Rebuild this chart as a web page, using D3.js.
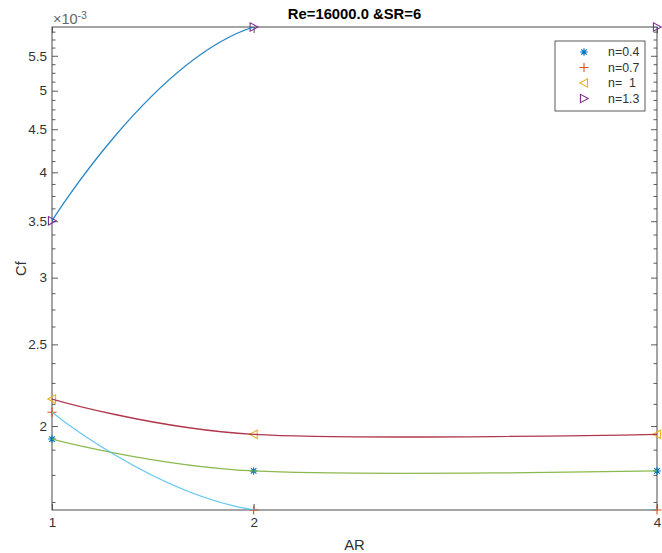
<!DOCTYPE html>
<html>
<head>
<meta charset="utf-8">
<script src="https://cdn.jsdelivr.net/npm/d3@7"></script>
<style>
  html, body { margin: 0; padding: 0; background: #ffffff; }
  svg { display: block; font-family: "Liberation Sans", Arial, Helvetica, sans-serif; }
</style>
</head>
<body>
<svg id="chart" width="662" height="553"></svg>
<script>
// Skin-friction coefficient Cf versus aspect ratio AR, one series per flow index n
const arValues = [1, 2, 4];
const seriesNames = ["n=0.4", "n=0.7", "n=  1", "n=1.3"];
const cfN04 = [1.930e-3, 1.769e-3, 1.769e-3];
const cfN07 = [2.077e-3, 1.590e-3, 1.590e-3];
const cfN10 = [2.153e-3, 1.955e-3, 1.955e-3];
const cfN13 = [3.504e-3, 5.950e-3, 5.950e-3];
const yMajorTicks = [2, 2.5, 3, 3.5, 4, 4.5, 5, 5.5];   // in units of 1e-3
const xTicks = [1, 2, 4];
const titleText = "Re=16000.0 &SR=6";
const xLabel = "AR";
const yLabel = "Cf";

// MATLAB-like colour order: markers take the first four, curves the next four
const markerColors = ["#0072BD", "#D95319", "#EDB120", "#7E2F8E"];
const curveColors  = ["#77AC30", "#4DBEEE", "#A2142F", "#0072BD"];
const markerKinds  = ["asterisk", "plus", "triLeft", "triRight"];

const series = [cfN04, cfN07, cfN10, cfN13].map((vals, i) => ({
  name: seriesNames[i],
  points: vals.map((v, j) => ({ ar: arValues[j], cf: v })),
  marker: markerKinds[i],
  markerColor: markerColors[i],
  curveColor: curveColors[i]
}));

const box = { left: 52, right: 657, top: 27, bottom: 510 };
const axisColor = "#4a4a4a";
const textColor = "#333333";

const svg = d3.select("#chart");

const allCf = series.flatMap(s => s.points.map(p => p.cf));
const x = d3.scaleLinear().domain(d3.extent(arValues)).range([box.left, box.right]);
const y = d3.scaleLog().domain(d3.extent(allCf)).range([box.bottom, box.top]);

// minor ticks on the log axis every 0.125e-3 between major ticks
const [yLo, yHi] = y.domain();
const yMinorTicks = d3.range(1.5, 6.01, 0.125)
  .filter(v => Math.abs(v * 2 - Math.round(v * 2)) > 1e-9)
  .map(v => v * 1e-3)
  .filter(v => v >= yLo && v <= yHi);

svg.append("rect").attr("width", 662).attr("height", 553).attr("fill", "#ffffff");

svg.append("defs").append("clipPath").attr("id", "plotClip")
  .append("rect")
  .attr("x", box.left).attr("y", box.top)
  .attr("width", box.right - box.left).attr("height", box.bottom - box.top);

// ---- axes ----
function styleAxis(g) {
  g.select(".domain").remove();
  g.selectAll(".tick line").attr("stroke", axisColor).attr("stroke-width", 0.9);
  g.selectAll(".tick text").attr("fill", textColor).attr("font-size", "13.5px")
    .attr("font-family", "'Liberation Sans', Arial, sans-serif");
}

const yMajor = yMajorTicks.map(v => v * 1e-3);
const fmtY = d => d3.format("~g")(Math.round(d * 1e4) / 10);

svg.append("g").attr("transform", `translate(${box.left},0)`)
  .call(d3.axisLeft(y).tickValues(yMajor).tickFormat(fmtY).tickSize(-6).tickPadding(5))
  .call(styleAxis);
svg.append("g").attr("transform", `translate(${box.left},0)`)
  .call(d3.axisLeft(y).tickValues(yMinorTicks).tickFormat("").tickSize(-3.5))
  .call(styleAxis);
svg.append("g").attr("transform", `translate(${box.right},0)`)
  .call(d3.axisRight(y).tickValues(yMajor).tickFormat("").tickSize(-6))
  .call(styleAxis);
svg.append("g").attr("transform", `translate(${box.right},0)`)
  .call(d3.axisRight(y).tickValues(yMinorTicks).tickFormat("").tickSize(-3.5))
  .call(styleAxis);

svg.append("g").attr("transform", `translate(0,${box.bottom})`)
  .call(d3.axisBottom(x).tickValues(xTicks).tickFormat(d3.format("d")).tickSize(-6).tickPadding(7))
  .call(styleAxis);
svg.append("g").attr("transform", `translate(0,${box.top})`)
  .call(d3.axisTop(x).tickValues(xTicks).tickFormat("").tickSize(-6))
  .call(styleAxis);

// axes box
svg.append("rect")
  .attr("x", box.left).attr("y", box.top)
  .attr("width", box.right - box.left).attr("height", box.bottom - box.top)
  .attr("fill", "none").attr("stroke", axisColor).attr("stroke-width", 1);

// exponent label of the y axis
const expo = svg.append("text").attr("x", box.left + 1).attr("y", 24)
  .attr("fill", "#666").attr("font-size", "14.5px");
expo.append("tspan").text("\u00d710");
expo.append("tspan").attr("font-size", "10.5px").attr("dy", -5.5).text("-3");

// ---- markers ----
function markerPath(kind, r) {
  switch (kind) {
    case "plus":
      return `M${-r},0H${r}M0,${-r}V${r}`;
    case "asterisk": {
      const d = r * 0.72;
      return `M${-r},0H${r}M0,${-r}V${r}M${-d},${-d}L${d},${d}M${-d},${d}L${d},${-d}`;
    }
    case "triLeft":
      return `M${-r},0L${r * 0.85},${-r}L${r * 0.85},${r}Z`;
    case "triRight":
      return `M${r},0L${-r * 0.85},${-r}L${-r * 0.85},${r}Z`;
  }
}
const markerSize = { asterisk: 3.8, plus: 4.6, triLeft: 4.2, triRight: 4.2 };

function drawMarkers(g, s) {
  g.selectAll("path.m-" + s.marker)
    .data(s.points)
    .join("path")
    .attr("class", "m-" + s.marker)
    .attr("transform", d => `translate(${x(d.ar)},${y(d.cf)})`)
    .attr("d", markerPath(s.marker, markerSize[s.marker]))
    .attr("fill", "none")
    .attr("stroke", s.markerColor)
    .attr("stroke-width", 1.1);
}

const markerLayer = svg.append("g");
series.forEach(s => drawMarkers(markerLayer, s));

// ---- smooth curves through each series ----
const line = d3.line()
  .x(d => x(d.ar))
  .y(d => y(d.cf))
  .curve(d3.curveCardinal.tension(0));

svg.append("g").attr("clip-path", "url(#plotClip)")
  .selectAll("path")
  .data(series)
  .join("path")
  .attr("d", s => line(s.points))
  .attr("fill", "none")
  .attr("stroke", s => s.curveColor)
  .attr("stroke-opacity", 0.85)
  .attr("stroke-width", 1.3);

// ---- title and axis labels ----
svg.append("text")
  .attr("x", (box.left + box.right) / 2).attr("y", 19)
  .attr("text-anchor", "middle")
  .attr("font-size", "14.8px").attr("font-weight", "bold")
  .attr("fill", "#000")
  .text(titleText);

svg.append("text")
  .attr("x", (box.left + box.right) / 2).attr("y", 550)
  .attr("text-anchor", "middle")
  .attr("font-size", "14.8px")
  .attr("fill", textColor)
  .text(xLabel);

svg.append("text")
  .attr("transform", `translate(26,${(box.top + box.bottom) / 2}) rotate(-90)`)
  .attr("text-anchor", "middle")
  .attr("font-size", "14.8px")
  .attr("fill", textColor)
  .text(yLabel);

// ---- legend ----
const legend = svg.append("g");
legend.append("rect")
  .attr("x", 555).attr("y", 41).attr("width", 90).attr("height", 70)
  .attr("fill", "#ffffff").attr("stroke", axisColor).attr("stroke-width", 0.9);

const rowY = i => 52 + i * 15.5;
series.forEach((s, i) => {
  legend.append("path")
    .attr("transform", `translate(584,${rowY(i)})`)
    .attr("d", markerPath(s.marker, markerSize[s.marker]))
    .attr("fill", "none")
    .attr("stroke", s.markerColor)
    .attr("stroke-width", 1.1);
  legend.append("text")
    .attr("x", 608).attr("y", rowY(i) + 4.4)
    .attr("font-size", "12.4px")
    .attr("fill", textColor)
    .style("white-space", "pre")
    .text(s.name);
});
</script>
</body>
</html>
